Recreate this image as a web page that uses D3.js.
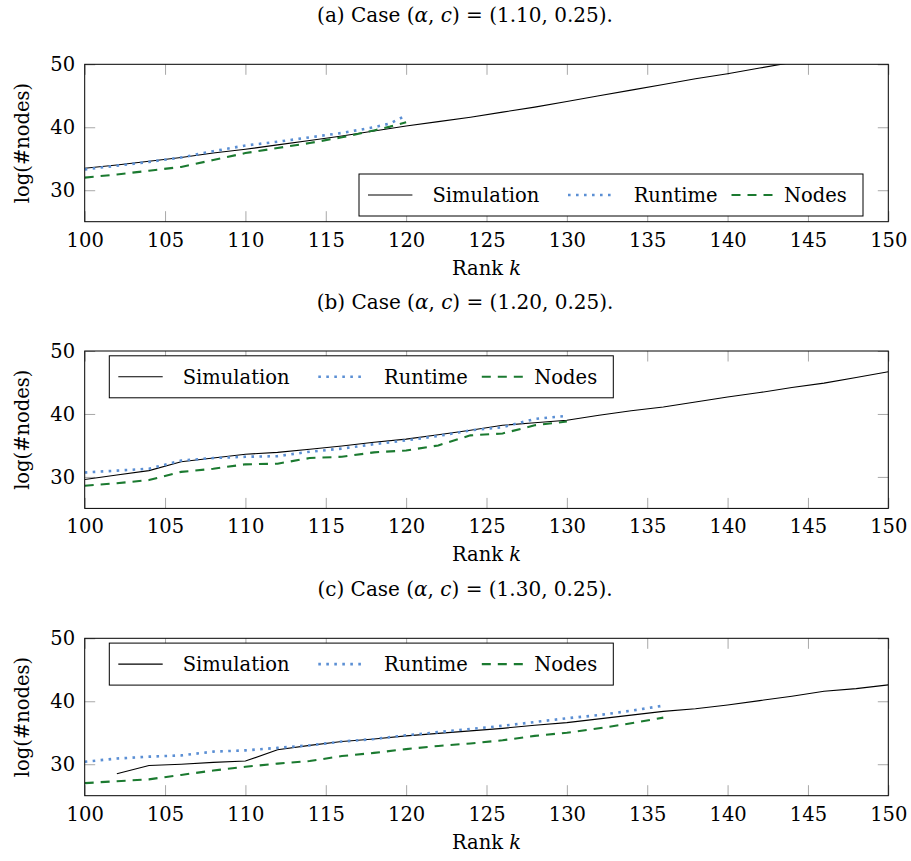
<!DOCTYPE html>
<html>
<head>
<meta charset="utf-8">
<script src="https://cdn.jsdelivr.net/npm/d3@7"></script>
<style>
  body { margin: 0; background: #fff; }
  svg text { font-family: "DejaVu Serif", serif; fill: #000; }
</style>
</head>
<body>
<div id="chart"></div>
<script>
// Three stacked panels: log(#nodes) vs rank k for three (alpha, c) cases.
var xTicks = [100, 105, 110, 115, 120, 125, 130, 135, 140, 145, 150];
var yTicks = [30, 40, 50];
var seriesNames = ["Simulation", "Runtime", "Nodes"];

// panel (a) alpha = 1.10
var simRankA = [100, 102, 104, 106, 108, 110, 112, 114, 116, 118, 120, 122, 124, 126, 128, 130, 132, 134, 136, 138, 140, 142, 144, 146, 148, 150];
var simA = [33.5, 34.0, 34.6, 35.2, 35.9, 36.5, 37.2, 37.9, 38.6, 39.4, 40.2, 40.9, 41.6, 42.4, 43.2, 44.1, 45.0, 45.9, 46.8, 47.7, 48.5, 49.4, 50.3, 51.2, 52.1, 53.0];
var estRankA = [100, 102, 104, 106, 108, 110, 112, 114, 116, 118, 119, 120];
var runtimeA = [33.3, 33.9, 34.5, 35.2, 36.2, 37.1, 37.7, 38.4, 39.1, 40.0, 40.6, 41.9];
var nodesA = [32.0, 32.5, 33.1, 33.7, 34.8, 35.9, 36.7, 37.5, 38.4, 39.5, 40.1, 40.8];

// panel (b) alpha = 1.20
var simRankB = [100, 102, 104, 106, 108, 110, 112, 114, 116, 118, 120, 122, 124, 126, 128, 130, 132, 134, 136, 138, 140, 142, 144, 146, 148, 150];
var simB = [29.6, 30.3, 31.0, 32.4, 33.0, 33.6, 33.9, 34.4, 34.9, 35.5, 36.0, 36.7, 37.4, 38.2, 38.6, 39.0, 39.8, 40.5, 41.1, 41.9, 42.7, 43.4, 44.2, 44.9, 45.8, 46.7];
var estRankB = [100, 102, 104, 106, 108, 110, 112, 114, 116, 118, 120, 122, 124, 126, 128, 130];
var runtimeB = [30.7, 31.0, 31.3, 32.6, 33.0, 33.2, 33.3, 34.0, 34.5, 35.2, 35.8, 36.5, 37.4, 37.9, 39.2, 39.7];
var nodesB = [28.6, 29.0, 29.5, 30.8, 31.3, 32.0, 32.1, 33.0, 33.2, 33.9, 34.2, 35.0, 36.6, 36.9, 38.2, 38.8];

// panel (c) alpha = 1.30
var simRankC = [102, 104, 106, 108, 110, 112, 114, 116, 118, 120, 122, 124, 126, 128, 130, 132, 134, 136, 138, 140, 142, 144, 146, 148, 150];
var simC = [28.5, 29.8, 30.0, 30.3, 30.5, 32.3, 33.0, 33.6, 34.0, 34.5, 34.9, 35.3, 35.7, 36.2, 36.6, 37.2, 37.8, 38.4, 38.8, 39.4, 40.1, 40.8, 41.6, 42.0, 42.6];
var estRankC = [100, 102, 104, 106, 108, 110, 112, 114, 116, 118, 120, 122, 124, 126, 128, 130, 132, 134, 136];
var runtimeC = [30.4, 30.9, 31.2, 31.4, 32.0, 32.2, 32.6, 33.0, 33.6, 34.0, 34.6, 35.1, 35.6, 36.1, 36.7, 37.3, 37.8, 38.5, 39.3];
var nodesC = [27.0, 27.3, 27.6, 28.3, 29.0, 29.6, 30.1, 30.5, 31.3, 31.8, 32.4, 32.9, 33.3, 33.8, 34.5, 35.0, 35.7, 36.5, 37.4];

var panels = [
  { tag: "a", alpha: "1.10", c: "0.25", top: 64.3, legend: "bottom-right",
    sim: [simRankA, simA], runtime: [estRankA, runtimeA], nodes: [estRankA, nodesA] },
  { tag: "b", alpha: "1.20", c: "0.25", top: 351, legend: "top-left",
    sim: [simRankB, simB], runtime: [estRankB, runtimeB], nodes: [estRankB, nodesB] },
  { tag: "c", alpha: "1.30", c: "0.25", top: 638.3, legend: "top-left",
    sim: [simRankC, simC], runtime: [estRankC, runtimeC], nodes: [estRankC, nodesC] }
];

var styles = {
  Simulation: { color: "#000", width: 1.1, dash: null },
  Runtime: { color: "#5b8fd4", width: 2.6, dash: "2.6,5.4" },
  Nodes: { color: "#1b7a30", width: 2.1, dash: "9,7" }
};

var W = 911, H = 861;
var left = 84.7, right = 888.3, plotH = 157.4;
var fs = 19.5;
var serif = "'DejaVu Serif', serif";

var svg = d3.select("#chart").append("svg")
  .attr("width", W).attr("height", H);

var x = d3.scaleLinear().domain([100, 150]).range([left, right]);

panels.forEach(function (p, i) {
  var y = d3.scaleLinear().domain([25, 50]).range([p.top + plotH, p.top]);
  var g = svg.append("g");

  // caption, centred by measuring its width
  var cap = g.append("text")
    .attr("x", 0).attr("y", p.top - 42)
    .style("font-size", "20px");
  cap.append("tspan").text("(" + p.tag + ") Case (");
  cap.append("tspan").style("font-style", "italic").text("α");
  cap.append("tspan").text(", ");
  cap.append("tspan").style("font-style", "italic").text("c");
  cap.append("tspan").text(") = (" + p.alpha + ", " + p.c + ").");
  var capW = cap.node().getComputedTextLength();
  cap.attr("x", 465 - capW / 2);

  // clip
  svg.append("clipPath").attr("id", "clip" + i)
    .append("rect").attr("x", left).attr("y", p.top)
    .attr("width", right - left).attr("height", plotH);

  // inward ticks on all four sides
  var tickLen = 10.5;
  var axB = g.append("g").attr("transform", "translate(0," + (p.top + plotH) + ")")
    .call(d3.axisBottom(x).tickValues(xTicks).tickSizeInner(-tickLen).tickSizeOuter(0).tickPadding(11));
  var axT = g.append("g").attr("transform", "translate(0," + p.top + ")")
    .call(d3.axisTop(x).tickValues(xTicks).tickSizeInner(-tickLen).tickSizeOuter(0).tickFormat(""));
  var axL = g.append("g").attr("transform", "translate(" + left + ",0)")
    .call(d3.axisLeft(y).tickValues(yTicks).tickSizeInner(-tickLen).tickSizeOuter(0).tickPadding(9.5));
  var axR = g.append("g").attr("transform", "translate(" + right + ",0)")
    .call(d3.axisRight(y).tickValues(yTicks).tickSizeInner(-tickLen).tickSizeOuter(0).tickFormat(""));
  [axB, axT, axL, axR].forEach(function (a) {
    a.select(".domain").remove();
    a.selectAll(".tick line").attr("stroke", "#a8a8a8").attr("stroke-width", 1);
    a.selectAll(".tick text")
      .style("font-family", serif)
      .style("font-size", fs + "px").attr("fill", "#000");
  });

  // lines
  var line = d3.line()
    .x(function (d) { return x(d[0]); })
    .y(function (d) { return y(d[1]); });
  var lines = g.append("g").attr("clip-path", "url(#clip" + i + ")");
  seriesNames.forEach(function (name) {
    var key = name === "Simulation" ? "sim" : name.toLowerCase();
    var ranks = p[key][0], vals = p[key][1];
    var st = styles[name];
    lines.append("path")
      .datum(d3.zip(ranks, vals))
      .attr("fill", "none")
      .attr("stroke", st.color)
      .attr("stroke-width", st.width)
      .attr("stroke-dasharray", st.dash)
      .attr("d", line);
  });

  // frame
  g.append("rect").attr("x", left).attr("y", p.top)
    .attr("width", right - left).attr("height", plotH)
    .attr("fill", "none").attr("stroke", "#000").attr("stroke-width", 1);

  // axis labels
  g.append("text")
    .attr("x", (left + right) / 2).attr("y", p.top + plotH + 53)
    .attr("text-anchor", "middle").style("font-size", fs + "px")
    .call(function (t) {
      t.append("tspan").text("Rank ");
      t.append("tspan").style("font-style", "italic").text("k");
    });
  g.append("text")
    .attr("transform", "translate(29," + (p.top + plotH / 2) + ") rotate(-90)")
    .attr("text-anchor", "middle").style("font-size", fs + "px")
    .text("log(#nodes)");

  // legend
  var boxW = 504, boxH = 42;
  var lx = p.legend === "top-left" ? left + 24.6 : right - 25.3 - boxW;
  var ly = p.legend === "top-left" ? p.top + 4.8 : p.top + plotH - 5.7 - boxH;
  var lg = g.append("g").attr("transform", "translate(" + lx + "," + ly + ")");
  lg.append("rect").attr("width", boxW).attr("height", boxH)
    .attr("fill", "#fff").attr("stroke", "#000").attr("stroke-width", 1);
  var entries = [
    { name: "Simulation", x0: 9, x1: 53.4, tx: 73.4 },
    { name: "Runtime", x0: 209, x1: 254, tx: 274.7 },
    { name: "Nodes", x0: 372.5, x1: 414, tx: 425 }
  ];
  entries.forEach(function (e) {
    var st = styles[e.name];
    lg.append("line")
      .attr("x1", e.x0).attr("x2", e.x1)
      .attr("y1", boxH / 2).attr("y2", boxH / 2)
      .attr("stroke", st.color).attr("stroke-width", st.width)
      .attr("stroke-dasharray", st.dash);
    lg.append("text")
      .attr("x", e.tx).attr("y", boxH / 2).attr("dy", "0.35em")
      .style("font-size", fs + "px")
      .text(e.name);
  });
});
</script>
</body>
</html>
